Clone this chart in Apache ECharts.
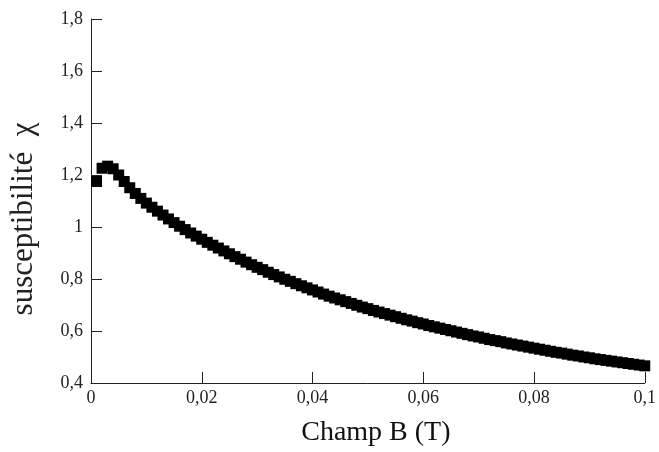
<!DOCTYPE html>
<html>
<head>
<meta charset="utf-8">
<script src="https://cdn.jsdelivr.net/npm/echarts@6/dist/echarts.min.js"></script>
<style>
html,body{margin:0;padding:0;background:#fff;}
#chart{width:659px;height:452px;}
</style>
</head>
<body>
<div id="chart"></div>
<script>
// Field B (T)
var fieldB = [
0.001,0.002,0.003,0.004,0.005,0.006,0.007,0.008,0.009,0.010,
0.011,0.012,0.013,0.014,0.015,0.016,0.017,0.018,0.019,0.020,
0.021,0.022,0.023,0.024,0.025,0.026,0.027,0.028,0.029,0.030,
0.031,0.032,0.033,0.034,0.035,0.036,0.037,0.038,0.039,0.040,
0.041,0.042,0.043,0.044,0.045,0.046,0.047,0.048,0.049,0.050,
0.051,0.052,0.053,0.054,0.055,0.056,0.057,0.058,0.059,0.060,
0.061,0.062,0.063,0.064,0.065,0.066,0.067,0.068,0.069,0.070,
0.071,0.072,0.073,0.074,0.075,0.076,0.077,0.078,0.079,0.080,
0.081,0.082,0.083,0.084,0.085,0.086,0.087,0.088,0.089,0.090,
0.091,0.092,0.093,0.094,0.095,0.096,0.097,0.098,0.099,0.100
];
// susceptibility chi
var chi = [
1.175,1.226,1.234,1.224,1.200,1.175,1.151,1.129,1.110,1.092,
1.076,1.061,1.046,1.031,1.017,1.003,0.990,0.977,0.965,0.953,
0.941,0.930,0.919,0.908,0.897,0.886,0.876,0.865,0.855,0.845,
0.836,0.826,0.817,0.808,0.799,0.791,0.782,0.774,0.766,0.758,
0.750,0.742,0.734,0.727,0.720,0.713,0.706,0.699,0.692,0.686,
0.679,0.673,0.667,0.661,0.655,0.649,0.643,0.638,0.632,0.627,
0.621,0.616,0.611,0.606,0.601,0.596,0.591,0.586,0.581,0.577,
0.572,0.567,0.563,0.559,0.554,0.550,0.546,0.542,0.538,0.534,
0.530,0.526,0.522,0.518,0.515,0.511,0.507,0.504,0.500,0.497,
0.493,0.490,0.487,0.484,0.481,0.478,0.475,0.472,0.469,0.466
];
var xTicks = [0, 0.02, 0.04, 0.06, 0.08, 0.1];
var yTicks = [0.4, 0.6, 0.8, 1.0, 1.2, 1.4, 1.6, 1.8];
var xName = 'Champ B (T)';
var yName = 'susceptibilité  χ';

function fmt(v){ return String(Number(v.toFixed(3))).replace('.', ','); }

var points = fieldB.map(function(b, i){ return [b, chi[i]]; });
var serif = '"Liberation Serif","DejaVu Serif",serif';

var chart = echarts.init(document.getElementById('chart'), null, {renderer:'canvas'});
chart.setOption({
  animation: false,
  backgroundColor: '#fff',
  grid: {left: 89, right: 10, top: 19, bottom: 64, containLabel: false},
  xAxis: {
    type: 'value', min: xTicks[0], max: xTicks[xTicks.length-1], interval: 0.02,
    name: xName, nameLocation: 'middle', nameGap: 36,
    nameTextStyle: {fontFamily: serif, fontSize: 28, color: '#111', padding: [0,0,0,16]},
    axisLine: {show: true, lineStyle: {color: '#222', width: 1}},
    axisTick: {show: true, inside: true, length: 11, lineStyle: {color: '#222'}},
    axisLabel: {fontFamily: serif, fontSize: 18, color: '#222', margin: 6, formatter: fmt},
    splitLine: {show: false}
  },
  yAxis: {
    type: 'value', min: yTicks[0], max: yTicks[yTicks.length-1], interval: 0.2,
    name: yName, nameLocation: 'middle', nameGap: 52,
    nameTextStyle: {fontFamily: serif, fontSize: 31, color: '#222', padding: [0,36,0,0]},
    axisLine: {show: true, lineStyle: {color: '#222', width: 1}},
    axisTick: {show: true, inside: true, length: 11, lineStyle: {color: '#222'}},
    axisLabel: {fontFamily: serif, fontSize: 18, color: '#222', margin: 8, formatter: fmt},
    splitLine: {show: false}
  },
  series: [{
    type: 'scatter',
    data: points,
    symbol: 'rect',
    symbolSize: 11,
    itemStyle: {color: '#000', opacity: 1},
    silent: true
  }]
});
</script>
</body>
</html>
